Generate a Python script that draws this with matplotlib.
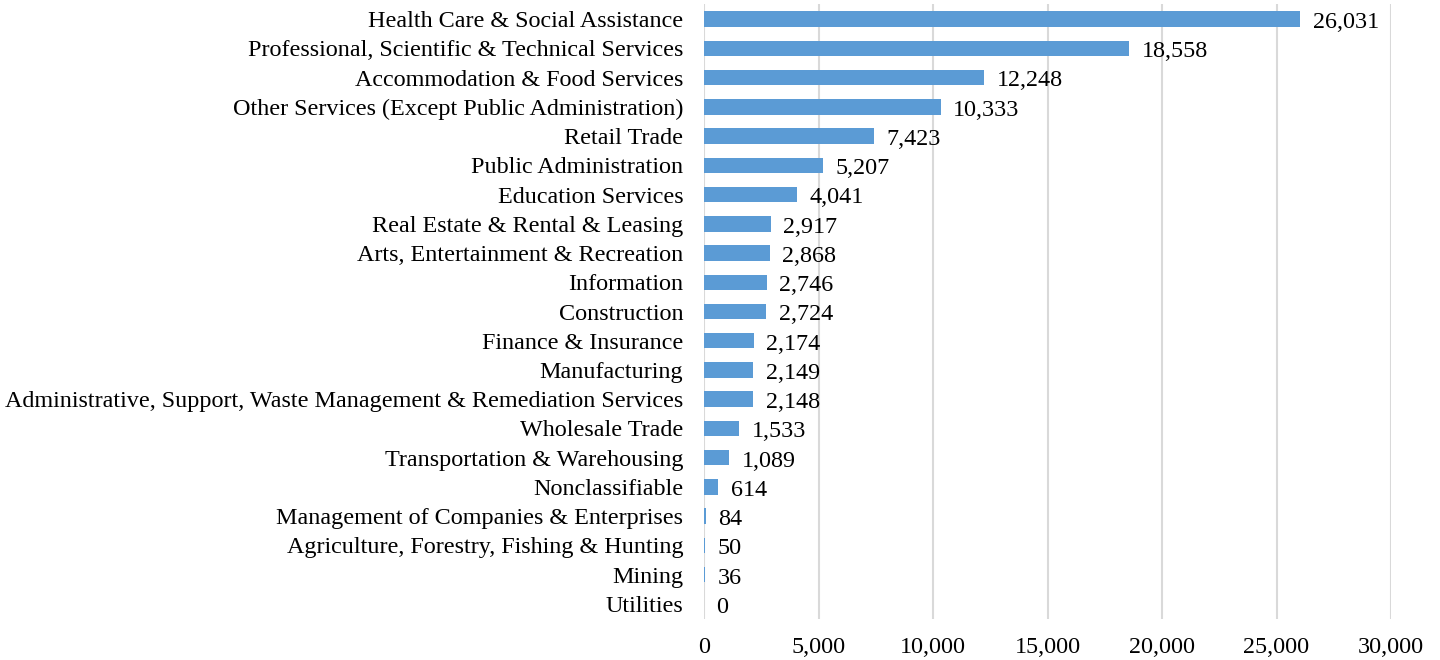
import matplotlib
matplotlib.use("Agg")
import matplotlib.pyplot as plt

categories = [
    "Health Care & Social Assistance",
    "Professional, Scientific & Technical Services",
    "Accommodation & Food Services",
    "Other Services (Except Public Administration)",
    "Retail Trade",
    "Public Administration",
    "Education Services",
    "Real Estate & Rental & Leasing",
    "Arts, Entertainment & Recreation",
    "Information",
    "Construction",
    "Finance & Insurance",
    "Manufacturing",
    "Administrative, Support, Waste Management & Remediation Services",
    "Wholesale Trade",
    "Transportation & Warehousing",
    "Nonclassifiable",
    "Management of Companies & Enterprises",
    "Agriculture, Forestry, Fishing & Hunting",
    "Mining",
    "Utilities",
]
values = [26031, 18558, 12248, 10333, 7423, 5207, 4041, 2917, 2868, 2746,
          2724, 2174, 2149, 2148, 1533, 1089, 614, 84, 50, 36, 0]
xticks = [0, 5000, 10000, 15000, 20000, 25000, 30000]

plt.rcParams['font.family'] = ['Liberation Serif', 'DejaVu Serif']
FS = 17.4

fig = plt.figure(figsize=(14.4, 6.6), dpi=100)
ax = fig.add_axes([704/1440, 1-618.6/660, (1391-704)/1440, (618.6-4.4)/660])

ypos = list(range(len(categories)))
ax.barh(ypos, values, height=0.53, color='#5B9BD5', zorder=3)
ax.set_ylim(len(categories)-0.5, -0.5)
ax.set_xlim(0, 30000)
ax.set_yticks(ypos)
ax.set_yticklabels(categories, fontsize=FS, color='black')
ax.set_xticks(xticks)
ax.set_xticklabels([f"{v:,}" for v in xticks], fontsize=FS)
ax.tick_params(axis='both', length=0)
ax.tick_params(axis='y', pad=15)
ax.tick_params(axis='x', pad=13)
for s in ax.spines.values():
    s.set_visible(False)
ax.grid(axis='x', color='#D9D9D9', linewidth=1.5, zorder=0)
ax.set_axisbelow(True)

for y, v in zip(ypos, values):
    ax.annotate(f"{v:,}", xy=(v, y), xytext=(9, -2.5), textcoords='offset points',
                ha='left', va='center', fontsize=FS, color='black')

fig.savefig("out.png", dpi=100)
